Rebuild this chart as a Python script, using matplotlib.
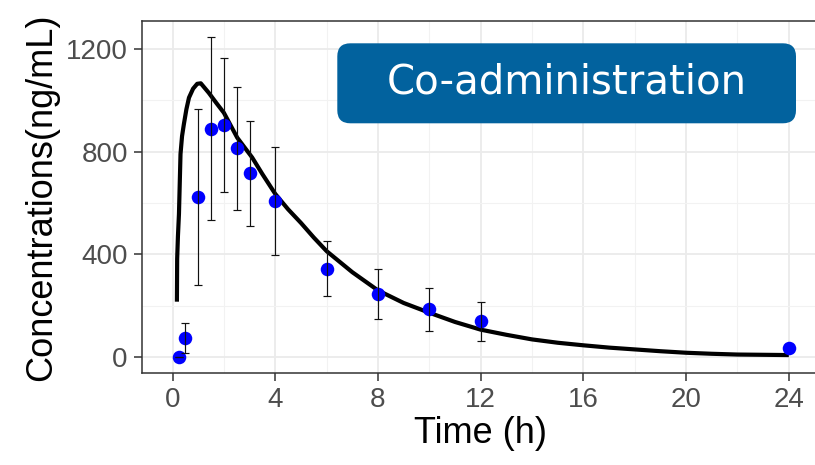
import matplotlib
matplotlib.use("Agg")
import matplotlib.pyplot as plt
from matplotlib.patches import FancyBboxPatch
from matplotlib.transforms import IdentityTransform
from matplotlib.ticker import MultipleLocator
import numpy as np

# Observed concentrations (mean +/- SD)
obs_time = [0.25, 0.5, 1, 1.5, 2, 2.5, 3, 4, 6, 8, 10, 12, 24]
obs_mean = [0, 74, 624, 889, 904, 812, 715, 608, 343, 246, 186, 138, 33]
obs_sd = [0, 58, 343, 357, 262, 240, 205, 210, 107, 98, 84, 75, np.nan]

# Model-predicted profile
pred_time = [0.17, 0.18, 0.21, 0.25, 0.31, 0.37, 0.44, 0.54, 0.64, 0.8, 0.96,
             1.1, 1.41, 1.7, 2.0, 2.52, 3.1, 3.5, 4.0, 4.5, 5.0, 5.5, 6.0,
             7.0, 8.0, 9.0, 10.0, 11.0, 12.0, 13.0, 14.0, 15.0, 16.0, 17.0,
             18.0, 19.0, 20.0, 21.0, 22.0, 23.0, 24.0]
pred_conc = [215, 382, 470, 557, 790, 860, 906, 965, 1010, 1045, 1064,
             1066, 1029, 990, 951, 854, 777, 712, 635, 575, 522, 465, 412,
             330, 259, 210, 172, 136, 106, 86, 68, 55, 45, 36, 29, 22, 16,
             12, 9, 8, 7]

x_ticks = [0, 4, 8, 12, 16, 20, 24]
y_ticks = [0, 400, 800, 1200]

fig = plt.figure(figsize=(8.15, 4.65), dpi=100)
ax = fig.add_axes([0.1739, 0.1978, 0.8318, 0.7577])

ax.set_xlim(-1.2, 25.2)
ax.set_ylim(-63, 1310)
ax.set_xticks(x_ticks)
ax.set_yticks(y_ticks)
ax.xaxis.set_minor_locator(MultipleLocator(2))
ax.yaxis.set_minor_locator(MultipleLocator(200))
ax.grid(which="major", color="#EBEBEB", linewidth=1.3)
ax.grid(which="minor", color="#F2F2F2", linewidth=0.8)
ax.set_axisbelow(True)

ax.plot(pred_time, pred_conc, color="black", linewidth=3.0,
        solid_joinstyle="round", solid_capstyle="butt", zorder=3)
ax.scatter(obs_time, obs_mean, s=95, color="#0000FF", zorder=4,
           linewidths=0)
ax.errorbar(obs_time, obs_mean, yerr=obs_sd, fmt="none", ecolor="#111111",
            elinewidth=0.85, capsize=3, capthick=0.85, zorder=5)

for side in ["left", "bottom", "top"]:
    ax.spines[side].set_color("#333333")
    ax.spines[side].set_linewidth(1.1)
ax.spines["right"].set_visible(False)

ax.tick_params(which="major", length=6, width=1.1, color="#333333",
               labelsize=20, labelcolor="#4D4D4D", pad=4)
ax.tick_params(which="minor", length=0)
for lab in ax.get_xticklabels() + ax.get_yticklabels():
    lab.set_family("Liberation Sans")

ax.set_xlabel("Time (h)", fontsize=26, family="Liberation Sans",
              labelpad=2)
ax.set_ylabel("Concentrations(ng/mL)", fontsize=26,
              family="Liberation Sans", labelpad=5)

# Title badge, positioned in pixels (origin bottom-left)
H = 465
box = FancyBboxPatch((337.3, H - 123.3), 796 - 337.3, 123.3 - 43.3,
                     boxstyle="round,pad=0,rounding_size=13",
                     transform=IdentityTransform(), facecolor="#02629E",
                     edgecolor="none", zorder=6)
fig.patches.append(box)
fig.text(566.7 / 815, 1 - 83 / H, "Co-administration", color="white",
         fontsize=29, family="DejaVu Sans", ha="center", va="center",
         zorder=7)

fig.savefig("out.png", dpi=100)
